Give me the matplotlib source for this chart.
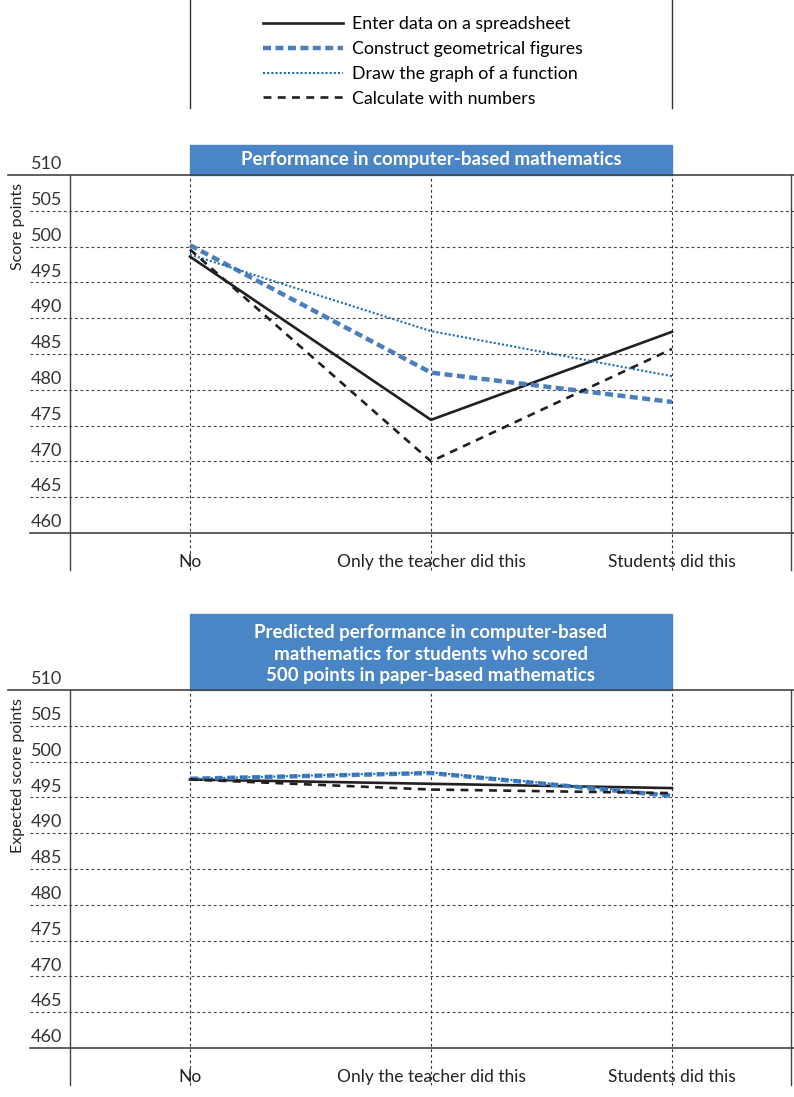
"""
Computer-based mathematics: performance by ICT use in maths lessons
"""
import matplotlib
matplotlib.use("Agg")
from matplotlib import pyplot as plt
from matplotlib.patches import Rectangle

plt.rcParams['font.family'] = ['Lato', 'DejaVu Sans']

# data
categories = ['No', 'Only the teacher did this', 'Students did this']
series_names = ['Enter data on a spreadsheet', 'Construct geometrical figures',
                'Draw the graph of a function', 'Calculate with numbers']
top_spreadsheet = [498.6, 475.8, 488.1]
top_geometry = [500.2, 482.4, 478.3]
top_function = [498.9, 488.2, 481.9]
top_calculate = [499.6, 470.0, 485.7]
bot_spreadsheet = [497.5, 496.9, 496.3]
bot_geometry = [497.6, 498.4, 495.2]
bot_function = [497.6, 498.5, 495.3]
bot_calculate = [497.5, 496.1, 495.6]
y_ticks = [460, 465, 470, 475, 480, 485, 490, 495, 500, 505, 510]

W, H = 794, 1097
blue_box = '#4a86c5'
dark = '#231f20'
styles = [
    dict(color=dark, lw=1.9, ls='-'),
    dict(color='#4a7ebf', lw=3.2, ls=(0, (1.8, 1.0))),
    dict(color='#1a6fb5', lw=1.5, ls=(0, (1.0, 1.0))),
    dict(color=dark, lw=1.9, ls=(0, (3.0, 2.4))),
]

fig = plt.figure(figsize=(W / 100, H / 100), dpi=100)

# background axes in pixel units (boxes, legend frame)
bg = fig.add_axes([0, 0, 1, 1])
bg.set_xlim(0, W)
bg.set_ylim(H, 0)
bg.axis('off')

px = 241.0  # pixels per category step
x0 = 190.0  # pixel of first category
def dx(p):
    return (p - x0) / px

ppu = 7.16  # pixels per score point


def make_panel(top_px, bottom_px, data, ylabel, ylabel_y):
    ymin = 510 - (bottom_px - top_px) / ppu
    ax = fig.add_axes([0, 1 - bottom_px / H, 1, (bottom_px - top_px) / H])
    ax.set_xlim(dx(0), dx(W))
    ax.set_ylim(ymin, 510)
    ax.axis('off')
    low = 510 - (570 - 175) / ppu
    # horizontal grid
    for v in y_ticks:
        if v == 510:
            ax.plot([dx(8), dx(W)], [v, v], color='#444', lw=1.2, clip_on=False)
        elif v == 460:
            ax.plot([dx(30), dx(W)], [v, v], color='#444', lw=1.2)
        else:
            ax.plot([dx(30), dx(W)], [v, v], color='#444', lw=0.8,
                    ls=(0, (2.5, 2.5)))
        ax.text(dx(62), v + 0.4, str(v), ha='right', va='bottom',
                fontsize=13, color='#333')
    # vertical lines
    ax.plot([dx(70), dx(70)], [low, 510], color='#444', lw=1.0)
    ax.plot([dx(791), dx(791)], [low, 510], color='#444', lw=1.0)
    for i in range(len(categories)):
        ax.plot([i, i], [low, 510], color='#333', lw=0.8, ls=(0, (2.5, 2.5)))
        ax.text(i, 510 - (562 - 175) / ppu, categories[i], ha='center',
                va='center', fontsize=12.5, color='#222')
    handles = []
    for vals, name, st in zip(data, series_names, styles):
        h, = ax.plot(range(len(categories)), vals, label=name, **st)
        handles.append(h)
    ax.text(dx(18), 510 - (ylabel_y - top_px) / ppu, ylabel, rotation=90,
            ha='center', va='center', fontsize=11.5, color='#222')
    return ax, handles


ax1, handles = make_panel(175, 590, [top_spreadsheet, top_geometry,
                                     top_function, top_calculate],
                          'Score points', 226)
ax2, _ = make_panel(690, 1097, [bot_spreadsheet, bot_geometry,
                                bot_function, bot_calculate],
                    'Expected score points', 776)

# title boxes
bg.add_patch(Rectangle((190, 145), 482, 30, color=blue_box, zorder=0))
bg.text(431, 160, 'Performance in computer-based mathematics', ha='center',
        va='center', color='white', fontsize=13.5, fontweight='bold')
bg.add_patch(Rectangle((190, 614), 482, 76, color=blue_box, zorder=0))
bg.text(431, 654, 'Predicted performance in computer-based\n'
        'mathematics for students who scored\n'
        '500 points in paper-based mathematics', ha='center', va='center',
        color='white', fontsize=13.5, fontweight='bold', linespacing=1.3)

# legend frame
bg.plot([190, 190], [0, 108], color='#333', lw=1.0)
bg.plot([672, 672], [0, 108], color='#333', lw=1.0)
fig.legend(handles=handles, loc='upper left',
           bbox_to_anchor=(263 / W, 1 - 16 / H), frameon=False,
           fontsize=12.8, handlelength=4.5, handletextpad=0.5,
           borderpad=0, borderaxespad=0, labelspacing=0.5)

plt.savefig('out.png', dpi=100)
